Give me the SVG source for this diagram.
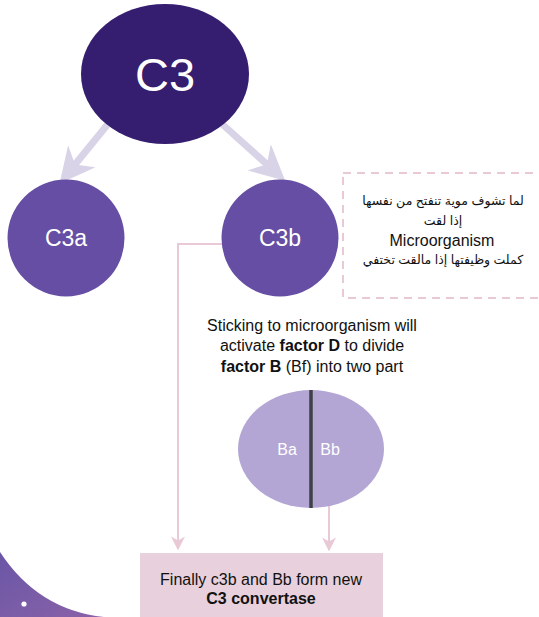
<svg xmlns="http://www.w3.org/2000/svg" width="539" height="617" viewBox="0 0 539 617">
<defs>
<style>
.lbl{font-family:"Liberation Sans",Arial,sans-serif;fill:#fff;text-anchor:middle}
.txt{font-family:"Liberation Sans",Arial,sans-serif;fill:#111;text-anchor:middle;font-size:16px}
.ar{font-family:"Liberation Sans","DejaVu Sans","Noto Sans",sans-serif;fill:#111;text-anchor:middle;font-size:12.5px}
.big{stroke:#d9d3e8;stroke-width:7;fill:none}
.pink{stroke:#e8c9d5;stroke-width:2;fill:none}
</style>
<marker id="bigArrow" viewBox="0 0 10 10" refX="8" refY="5" markerWidth="5" markerHeight="5" orient="auto" markerUnits="strokeWidth">
<path d="M0,0 L10,5 L0,10 L3,5 Z" fill="#d9d3e8"/>
</marker>
<marker id="pinkArrow" viewBox="0 0 10 10" refX="9" refY="5" markerWidth="7" markerHeight="7" orient="auto" markerUnits="strokeWidth">
<path d="M0,0 L10,5 L0,10 L3,5 Z" fill="#e8c9d5"/>
</marker>
<linearGradient id="corner" x1="0" y1="0" x2="1" y2="1">
<stop offset="0" stop-color="#6a56a6"/>
<stop offset="1" stop-color="#8a62a8"/>
</linearGradient>
</defs>

<g id="decor">
<path d="M0,552 Q38,610 104,617 L0,617 Z" fill="url(#corner)"/>
<circle cx="24" cy="604" r="2.6" fill="#fff"/>
</g>

<g id="connectors">
<line class="big" x1="108" y1="124" x2="64" y2="178" marker-end="url(#bigArrow)"/>
<line class="big" x1="222" y1="124" x2="280" y2="176" marker-end="url(#bigArrow)"/>
<polyline class="pink" points="224,244 178,244 178,549" marker-end="url(#pinkArrow)"/>
<line class="pink" x1="318" y1="461" x2="352" y2="461"/>
<line class="pink" x1="329" y1="461" x2="329" y2="550" marker-end="url(#pinkArrow)"/>
</g>

<g id="C3">
<ellipse cx="165" cy="74" rx="84" ry="70" fill="#351d6f"/>
<text class="lbl" x="165" y="91" font-size="47">C3</text>
</g>

<g id="C3a">
<circle cx="66" cy="238" r="58.5" fill="#654ea3"/>
<text class="lbl" x="66" y="246" font-size="23">C3a</text>
</g>

<g id="C3b">
<circle cx="280" cy="238" r="58.5" fill="#654ea3"/>
<text class="lbl" x="280" y="246" font-size="23">C3b</text>
</g>

<g id="note">
<rect x="343" y="173" width="210" height="125" fill="none" stroke="#e8c9d5" stroke-width="2" stroke-dasharray="8,6"/>
<text class="ar" x="443" y="205" direction="rtl">لما تشوف موية تنفتح من نفسها</text>
<text class="ar" x="443" y="225" direction="rtl">إذا لقت</text>
<text class="txt" x="442" y="246">Microorganism</text>
<text class="ar" x="443" y="264" direction="rtl">كملت وظيفتها إذا مالقت تختفي</text>
</g>

<g id="desc">
<text class="txt" x="312" y="331">Sticking to microorganism will</text>
<text class="txt" x="312" y="351">activate <tspan font-weight="bold">factor D</tspan> to divide</text>
<text class="txt" x="312" y="372"><tspan font-weight="bold">factor B</tspan> (Bf) into two part</text>
</g>

<g id="factorB">
<ellipse cx="311" cy="449" rx="73" ry="59" fill="#b3a6d4"/>
<line x1="311" y1="390" x2="311" y2="508" stroke="#3f3f46" stroke-width="3.5"/>
<text class="lbl" x="287" y="455" font-size="16">Ba</text>
<text class="lbl" x="330" y="455" font-size="16">Bb</text>
</g>

<g id="final">
<rect x="140" y="553" width="243" height="64" fill="#e8d1dc"/>
<text class="txt" x="261" y="585">Finally c3b and Bb form new</text>
<text class="txt" x="261" y="604" font-weight="bold">C3 convertase</text>
</g>
</svg>
